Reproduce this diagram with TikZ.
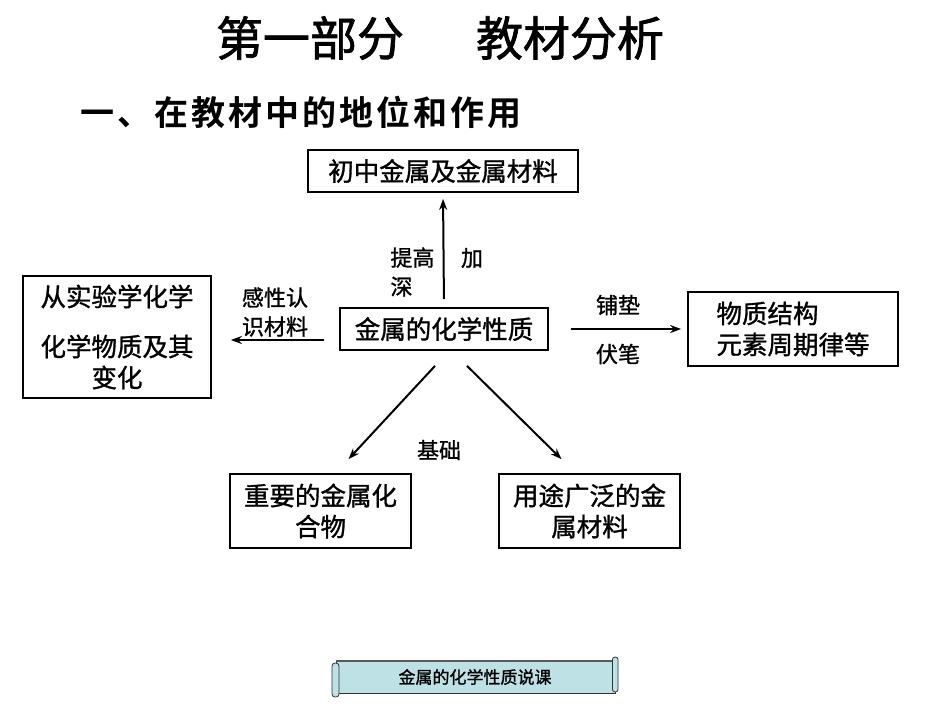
\documentclass[tikz,border=0pt]{standalone}
\usepackage{fontspec}
\newfontfamily\cjk[FakeBold=1.2]{Noto Sans CJK SC}
\newfontfamily\cjkt[FakeBold=1.5]{Noto Sans CJK SC}
\newfontfamily\cjkb[LetterSpace=9]{Noto Sans CJK SC Bold}
\usetikzlibrary{arrows.meta,calc}
\definecolor{scrollfill}{HTML}{BDE1E4}
\tikzset{
  boxnode/.style={draw, line width=1.8pt, inner sep=0pt, align=center,
    font=\cjk\fontsize{25.5}{31}\selectfont},
  lbl/.style={inner sep=0pt, align=left, font=\cjk\fontsize{22}{29}\selectfont},
  arr/.style={line width=2pt, -{Stealth[length=11pt,width=8pt]}},
}
\begin{document}
\begin{tikzpicture}[x=1pt,y=-1pt]
\useasboundingbox (0,0) rectangle (950,713);
\fill[white] (0,0) rectangle (950,713);
% titles
\node[inner sep=0, font=\cjkt\fontsize{47}{47}\selectfont] (t1) at (310,38) {第一部分};
\node[inner sep=0, font=\cjkt\fontsize{47}{47}\selectfont] (t2) at (570,38) {教材分析};
\node[inner sep=0, font=\cjkb\fontsize{34}{34}\selectfont] (sub) at (301,112) {一、在教材中的地位和作用};
% boxes
\node[boxnode, minimum width=270, minimum height=42] (top) at (443,171) {初中金属及金属材料};
\node[boxnode, minimum width=208, minimum height=42] (mid) at (444,329) {金属的化学性质};
\node[boxnode, minimum width=188, minimum height=122] (left) at (117,337) {从实验学化学\\[19pt]化学物质及其\\变化};
\node[boxnode, align=left, minimum width=210, minimum height=74] (right) at (793,329) {物质结构\\元素周期律等};
\node[boxnode, minimum width=181, minimum height=74] (bl) at (320.5,511) {重要的金属化\\合物};
\node[boxnode, minimum width=181, minimum height=74] (br) at (589.5,511) {用途广泛的金\\属材料};
% arrows
\draw[arr, shorten <=8pt, shorten >=6pt] (mid.north) -- (top.south);
\draw[arr] ($(mid.west)+(-15,11)$) -- ($(left.east)+(19,3)$);
\draw[arr, shorten <=22pt, shorten >=6pt] (mid.east) -- (right.west);
\draw[arr] ($(mid.south)+(-9,15)$) -- ($(bl.north)+(28,-14)$);
\draw[arr] ($(mid.south)+(23,15)$) -- ($(br.north)+(-28,-14)$);
% labels
\node[lbl] (l1) at (412.5,272) {提高\\深};
\node[lbl] (l2) at (472,258) {加};
\node[lbl] (l3) at (275,312) {感性认\\识材料};
\node[lbl] (l4) at (618,305) {铺垫};
\node[lbl] (l5) at (618,354) {伏笔};
\node[lbl] (l6) at (439,450) {基础};
% scroll banner
\filldraw[fill=scrollfill, draw=black!80, line width=0.8pt] (336,661) rectangle (615,693);
\draw[black!65, line width=2pt] (336,661) -- (613,661);
\filldraw[fill=scrollfill, draw=black!80, line width=0.8pt, rounded corners=3pt] (332,663) rectangle (339,697);
\filldraw[fill=scrollfill, draw=black!80, line width=0.8pt, rounded corners=2.5pt] (612.5,657) rectangle (618,692);
\node[inner sep=0, font=\cjk\fontsize{17}{17}\selectfont] (banner) at (475,677) {金属的化学性质说课};
\end{tikzpicture}
\end{document}
